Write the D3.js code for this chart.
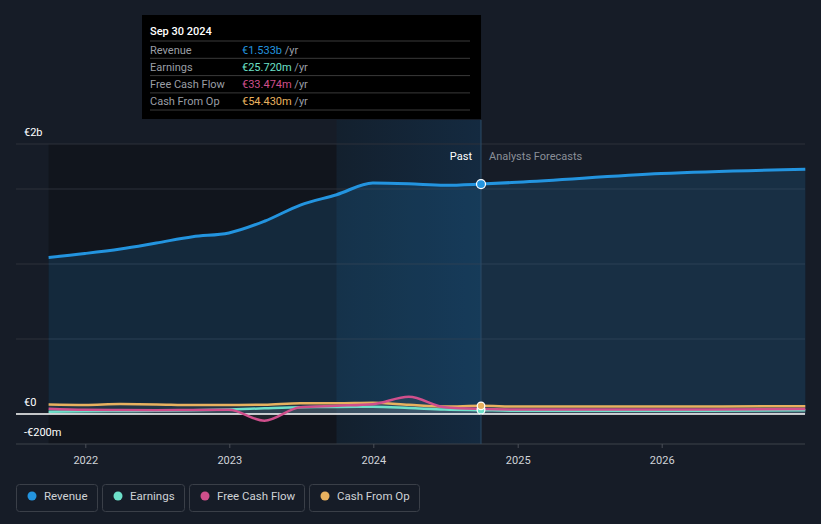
<!DOCTYPE html>
<html><head><meta charset="utf-8">
<script src="https://cdn.jsdelivr.net/npm/d3@7/dist/d3.min.js"></script>
<style>
html,body{margin:0;padding:0;background:#161c27;}
svg{display:block;font-family:Roboto,"Noto Sans",sans-serif;}
</style></head><body>
<svg id="c" width="821" height="524"></svg>
<script>
const dates = ["2021-09-30","2021-12-31","2022-03-31","2022-06-30","2022-09-30","2022-12-31","2023-03-31","2023-06-30","2023-09-30","2023-12-31","2024-03-31","2024-06-30","2024-09-30","2024-12-31","2025-12-31","2026-12-31"];
const revenue  = [1044,1070,1100,1140,1182,1207,1285,1393,1462,1540,1535,1525,1533,1545,1603,1632];
const earnings = [15,18,20,22,25,30,38,45,47,48,40,30,25.72,22,22,25];
const fcf      = [35,28,26,25,27,28,-45,45,55,65,115,45,33.474,30,30,33];
const cfo      = [63,60,66,64,60,60,62,72,72,75,62,50,54.43,50,50,52];
const yTicks = [500,1000,1500];
const yLabels = [{v:1800,t:"€2b"},{v:0,t:"€0"},{v:-200,t:"-€200m"}];
const xTickYears = [2022,2023,2024,2025,2026];
const seriesNames = ["Revenue","Earnings","Free Cash Flow","Cash From Op"];
const colors = ["#2394df","#6de0c9","#cf4f8c","#e8b15f"];
const tipValues = ["€1.533b","€25.720m","€33.474m","€54.430m"];

const parse = d3.timeParse("%Y-%m-%d");
const D = dates.map(parse);
const svg = d3.select("#c");
const x = d3.scaleTime().domain([new Date(2022,0,1), new Date(2026,0,1)]).range([85.3, 661.7]);
const y = d3.scaleLinear().domain([-200,1800]).range([444,144]);
const x0 = x(D[0]), x1 = x(D[D.length-1]);
const nowIdx = 12, bandIdx = 8;
const xNow = x(D[nowIdx]), xBand = x(D[bandIdx]);

// past dark region
svg.append("rect").attr("x",x0).attr("y",y(1800)).attr("width",xBand-x0).attr("height",y(-200)-y(1800)).attr("fill","#11151d");
// band last year
const grad = svg.append("defs").append("linearGradient").attr("id","bg").attr("x1",0).attr("x2",1).attr("y1",0).attr("y2",0);
grad.append("stop").attr("offset","0%").attr("stop-color","#13202e");
grad.append("stop").attr("offset","100%").attr("stop-color","#142a40");
svg.append("rect").attr("x",xBand).attr("y",120).attr("width",xNow-xBand).attr("height",444-120).attr("fill","url(#bg)");

// gridlines
svg.selectAll(".g").data(yTicks.concat([1800])).enter().append("line")
  .attr("x1",16).attr("x2",805).attr("y1",d=>y(d)).attr("y2",d=>y(d)).attr("stroke","#2c313a").attr("stroke-width",1);
svg.append("line").attr("x1",16).attr("x2",805).attr("y1",y(-200)).attr("y2",y(-200)).attr("stroke","#3d424b").attr("stroke-width",1);

// revenue area
const area = d3.area().x((d,i)=>x(D[i])).y0(y(0)).y1(d=>y(d)).curve(d3.curveMonotoneX);
svg.append("path").datum(revenue).attr("d",area).attr("fill","#2394df").attr("fill-opacity",0.16);

// small series areas
[cfo,fcf,earnings].forEach((s,k)=>{
  svg.append("path").datum(s).attr("d",area).attr("fill","#8890a0").attr("fill-opacity",0.12);
});

// zero line
svg.append("line").attr("x1",16).attr("x2",805).attr("y1",y(0)).attr("y2",y(0)).attr("stroke","#ffffff").attr("stroke-width",1.5);

const line = d3.line().x((d,i)=>x(D[i])).y(d=>y(d)).curve(d3.curveMonotoneX);
const all = [revenue,earnings,fcf,cfo];
[3,1,2].forEach(k=>{
  svg.append("path").datum(all[k]).attr("d",line).attr("fill","none").attr("stroke",colors[k]).attr("stroke-width",2.5);
});
svg.append("path").datum(revenue).attr("d",line).attr("fill","none").attr("stroke",colors[0]).attr("stroke-width",3);

// vertical now line
svg.append("line").attr("x1",xNow).attr("x2",xNow).attr("y1",120).attr("y2",444).attr("stroke","#2a4a66").attr("stroke-width",1);

// markers
[2,1,3,0].forEach(k=>{
  svg.append("circle").attr("cx",xNow).attr("cy",y(all[k][nowIdx])).attr("r",k===0?4.5:3.8)
    .attr("fill",colors[k]).attr("stroke","#fff").attr("stroke-width",1.2);
});

// Past / Forecast labels
svg.append("text").attr("x",xNow-9).attr("y",160).attr("text-anchor","end").attr("fill","#fff").attr("font-size",11).text("Past");
svg.append("text").attr("x",xNow+8).attr("y",160).attr("fill","#8a8f98").attr("font-size",11).text("Analysts Forecasts");

// y labels
svg.selectAll(".yl").data(yLabels).enter().append("text")
  .attr("x",24).attr("y",d=>d.v===1800?136:y(d.v)-8).attr("fill","#fff").attr("font-size",11).text(d=>d.t);

// x axis ticks
const xa = svg.append("g").attr("transform","translate(0,444)")
  .call(d3.axisBottom(x).tickValues(xTickYears.map(yy=>new Date(yy,0,1))).tickFormat(d3.timeFormat("%Y")).tickSize(4).tickSizeOuter(0));
xa.select(".domain").remove();
xa.selectAll("line").attr("stroke","#4a4f58");
xa.selectAll("text").attr("fill","#d0d3d8").attr("font-size",11).attr("font-family","Roboto,sans-serif").attr("dy","1.2em");

// tooltip
const tip = svg.append("g");
tip.append("rect").attr("x",142).attr("y",15).attr("width",xNow-142).attr("height",104).attr("fill","#000");
tip.append("text").attr("x",150).attr("y",35).attr("fill","#fff").attr("font-size",11).attr("font-weight",500).text("Sep 30 2024");
seriesNames.forEach((n,i)=>{
  const ry = 41 + i*17.3;
  tip.append("line").attr("x1",150).attr("x2",470).attr("y1",ry).attr("y2",ry).attr("stroke","#3a3a3a");
  tip.append("text").attr("x",150).attr("y",ry+12.5).attr("fill","#9a9ea5").attr("font-size",11).text(n);
  const t = tip.append("text").attr("x",242).attr("y",ry+12.5).attr("font-size",11);
  t.append("tspan").attr("fill",colors[i]).text(tipValues[i]);
  t.append("tspan").attr("fill","#9a9ea5").text(" /yr");
});
tip.append("line").attr("x1",150).attr("x2",470).attr("y1",110).attr("y2",110).attr("stroke","#3a3a3a");

// legend
const lg = [{x:16,w:81},{x:102,w:82},{x:189,w:115},{x:309,w:110}];
seriesNames.forEach((n,i)=>{
  const g = svg.append("g");
  g.append("rect").attr("x",lg[i].x+0.5).attr("y",484.5).attr("width",lg[i].w).attr("height",27).attr("rx",3)
    .attr("fill","none").attr("stroke","#3a3f48");
  g.append("circle").attr("cx",lg[i].x+16).attr("cy",496).attr("r",4.5).attr("fill",colors[i]);
  g.append("text").attr("x",lg[i].x+28).attr("y",500).attr("fill","#cfd2d6").attr("font-size",11.5).text(n);
});
</script>
</body></html>
